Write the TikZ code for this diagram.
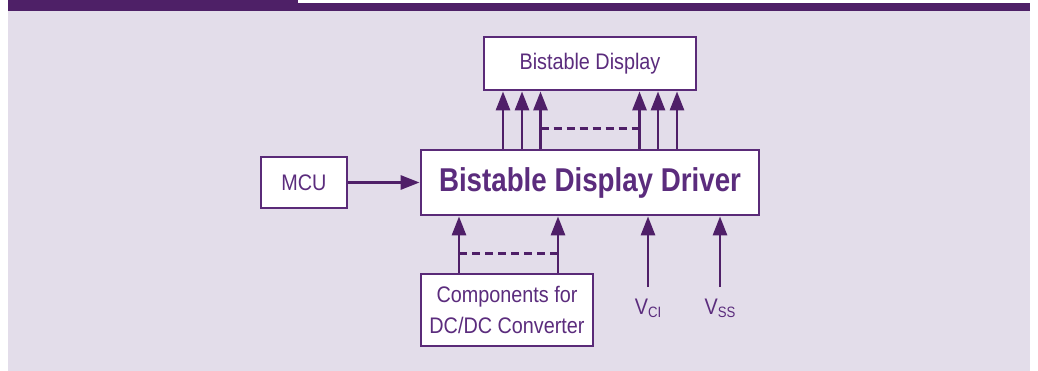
\documentclass[tikz,border=0pt]{standalone}
\usepackage{fontspec}
\usetikzlibrary{arrows.meta}
\newfontfamily\regfont[FakeStretch=0.88]{Liberation Sans}
\newfontfamily\drvfont[FakeStretch=0.84]{Liberation Sans}
\definecolor{bandpurple}{HTML}{4E2067}
\definecolor{lav}{HTML}{E3DDEA}
\definecolor{boxpurple}{HTML}{5A2A78}
\definecolor{linepurple}{HTML}{4F1F68}
\definecolor{txtpurple}{HTML}{5B2C7D}
\tikzset{
  blk/.style={draw=boxpurple, line width=2.8pt, fill=white, inner sep=0pt,
    text=txtpurple, font=\regfont\fontsize{22.5}{31}\selectfont, align=center},
  arr/.style={draw=linepurple, line width=2.8pt, -{Triangle[length=19pt,width=14pt]}},
  dsh/.style={draw=linepurple, line width=2.4pt, dash pattern=on 8pt off 5pt},
  vlab/.style={text=txtpurple, font=\regfont\fontsize{22.5}{26}\selectfont, inner sep=0pt, anchor=base}
}
\newcommand{\sbs}[1]{\raisebox{-3pt}{\fontsize{15}{15}\selectfont #1}}
\begin{document}
\begin{tikzpicture}[x=1pt,y=-1pt]
\useasboundingbox (0,0) rectangle (1038,371);
\fill[white] (0,0) rectangle (1038,371);
\fill[lav] (8,11) rectangle (1030,371);
\fill[bandpurple] (8,0) rectangle (298,11);
\fill[bandpurple] (298,3) rectangle (1030,11);

\node[blk, minimum width=212pt, minimum height=53pt] (disp) at (590,63.5) {Bistable Display};
\node[blk, minimum width=338pt, minimum height=65pt, font=\drvfont\bfseries\fontsize{33}{33}\selectfont] (drv) at (590,182.5) {Bistable Display Driver};
\node[blk, minimum width=86pt, minimum height=51pt] (mcu) at (304,182.5) {MCU};
\node[blk, minimum width=172pt, minimum height=72pt] (comp) at (507,310) {Components for\\DC/DC Converter};

\node[vlab] (vci) at (648,314) {V\sbs{CI}};
\node[vlab] (vss) at (720,314) {V\sbs{SS}};
\coordinate (vcitop) at (648,287);
\coordinate (vsstop) at (720,287);

% driver to display
\foreach \dx in {-87,-68,-49.5,49.5,68,87}{
  \draw[arr] ([xshift=\dx pt]drv.north) -- ([xshift=\dx pt]disp.south);
}
\draw[dsh] ([xshift=-49.5pt,yshift=20pt]drv.north) -- ([xshift=49.5pt,yshift=20pt]drv.north);

% MCU to driver
\draw[arr] (mcu.east) -- (drv.west);

% components to driver
\draw[arr] ([xshift=-48pt]comp.north) -- ([xshift=-48pt]comp.north |- drv.south);
\draw[arr] ([xshift=51pt]comp.north) -- ([xshift=51pt]comp.north |- drv.south);
\draw[dsh] ([xshift=-48pt,yshift=19pt]comp.north) -- ([xshift=51pt,yshift=19pt]comp.north);

% supply pins
\draw[arr] (vcitop) -- (vcitop |- drv.south);
\draw[arr] (vsstop) -- (vsstop |- drv.south);
\end{tikzpicture}
\end{document}
